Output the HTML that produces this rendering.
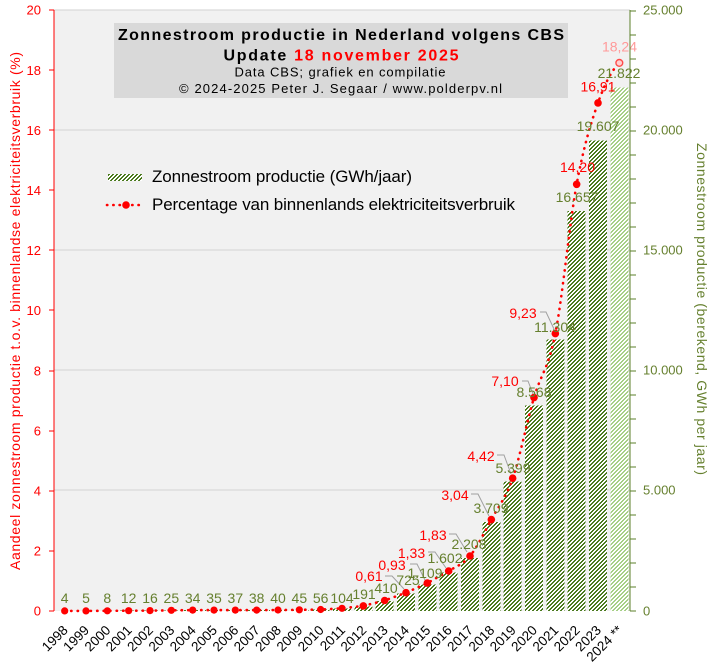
<!DOCTYPE html>
<html><head><meta charset="utf-8"><style>
html,body{margin:0;padding:0;background:#fff;}
svg{display:block;}
text{font-family:"Liberation Sans",Arial,sans-serif;}
.g{fill:#66802f;font-size:14px;text-anchor:middle;}
.r{fill:#ff0000;font-size:14px;text-anchor:middle;}
.yl{fill:#ff0000;font-size:13px;text-anchor:end;}
.yr{fill:#66802f;font-size:13px;font-family:"DejaVu Sans",sans-serif;}
.xl{fill:#000;font-size:13.5px;text-anchor:end;}
</style></head><body>
<svg width="711" height="666" viewBox="0 0 711 666" xmlns="http://www.w3.org/2000/svg">
<defs>
<pattern id="hd" x="0" y="0" width="4" height="4" patternUnits="userSpaceOnUse">
<rect width="4" height="4" fill="#fff"/>
<g fill="#4b7a1e" shape-rendering="crispEdges">
<rect x="2" y="0" width="2" height="1"/><rect x="1" y="1" width="2" height="1"/><rect x="0" y="2" width="2" height="1"/><rect x="3" y="3" width="1" height="1"/><rect x="0" y="3" width="1" height="1"/>
</g></pattern>
<pattern id="hl" x="0" y="0" width="4" height="4" patternUnits="userSpaceOnUse">
<rect width="4" height="4" fill="#fff"/>
<g fill="#a6cf86" shape-rendering="crispEdges">
<rect x="2" y="0" width="2" height="1"/><rect x="1" y="1" width="2" height="1"/><rect x="0" y="2" width="2" height="1"/><rect x="3" y="3" width="1" height="1"/><rect x="0" y="3" width="1" height="1"/>
</g></pattern>
</defs>

<!-- plot background -->
<rect x="54" y="10" width="576" height="601" fill="#f1f1f1"/>
<g stroke="#d2d2d2" stroke-width="1" shape-rendering="crispEdges">
<line x1="54" y1="10" x2="630" y2="10"/>
<line x1="54" y1="130" x2="630" y2="130"/>
<line x1="54" y1="250" x2="630" y2="250"/>
<line x1="54" y1="370" x2="630" y2="370"/>
<line x1="54" y1="490" x2="630" y2="490"/>
</g>

<!-- title box -->
<rect x="114" y="23" width="454" height="75" fill="#d9d9d9"/>
<text x="341" y="40" text-anchor="middle" font-weight="bold" font-size="16" textLength="446" lengthAdjust="spacing" fill="#000">Zonnestroom productie in Nederland volgens CBS</text>
<text x="341" y="60.5" text-anchor="middle" font-weight="bold" font-size="16" textLength="235" lengthAdjust="spacing" fill="#000">Update <tspan fill="#ff0000">18 november 2025</tspan></text>
<text x="340" y="76.5" text-anchor="middle" font-size="13" textLength="211" lengthAdjust="spacing" fill="#000">Data CBS; grafiek en compilatie</text>
<text x="340.5" y="93" text-anchor="middle" font-size="13" textLength="323" lengthAdjust="spacing" fill="#000">© 2024-2025 Peter J. Segaar / www.polderpv.nl</text>

<!-- legend -->
<rect x="108" y="174" width="34" height="7" fill="url(#hd)"/>
<text x="152" y="182" font-size="17" textLength="260" lengthAdjust="spacing" fill="#000">Zonnestroom productie (GWh/jaar)</text>
<line x1="107" y1="205" x2="141" y2="205" stroke="#ff0000" stroke-width="2.6" stroke-linecap="round" stroke-dasharray="0.3 6"/>
<circle cx="126" cy="205" r="3.8" fill="#ff0000"/>
<text x="152" y="210" font-size="17" textLength="363" lengthAdjust="spacing" fill="#000">Percentage van binnenlands elektriciteitsverbruik</text>

<!-- bars -->
<g shape-rendering="crispEdges">
<rect x="55.67" y="610.9" width="18" height="0.1" fill="url(#hd)"/>
<rect x="77" y="610.88" width="18" height="0.12" fill="url(#hd)"/>
<rect x="98.33" y="610.8" width="18" height="0.2" fill="url(#hd)"/>
<rect x="119.67" y="610.7" width="18" height="0.3" fill="url(#hd)"/>
<rect x="141" y="610.6" width="18" height="0.4" fill="url(#hd)"/>
<rect x="162.33" y="610.4" width="18" height="0.6" fill="url(#hd)"/>
<rect x="183.67" y="610.2" width="18" height="0.8" fill="url(#hd)"/>
<rect x="205" y="610.2" width="18" height="0.8" fill="url(#hd)"/>
<rect x="226.33" y="610.1" width="18" height="0.9" fill="url(#hd)"/>
<rect x="247.67" y="610.1" width="18" height="0.9" fill="url(#hd)"/>
<rect x="269" y="610" width="18" height="1" fill="url(#hd)"/>
<rect x="290.33" y="609.9" width="18" height="1.1" fill="url(#hd)"/>
<rect x="311.67" y="609.7" width="18" height="1.3" fill="url(#hd)"/>
<rect x="333" y="608.5" width="18" height="2.5" fill="url(#hd)"/>
<rect x="354.33" y="606.4" width="18" height="4.6" fill="url(#hd)"/>
<rect x="375.67" y="601.2" width="18" height="9.8" fill="url(#hd)"/>
<rect x="397" y="593.6" width="18" height="17.4" fill="url(#hd)"/>
<rect x="418.33" y="584.4" width="18" height="26.6" fill="url(#hd)"/>
<rect x="439.67" y="572.5" width="18" height="38.5" fill="url(#hd)"/>
<rect x="461" y="558" width="18" height="53" fill="url(#hd)"/>
<rect x="482.33" y="522" width="18" height="89" fill="url(#hd)"/>
<rect x="503.67" y="481.4" width="18" height="129.6" fill="url(#hd)"/>
<rect x="525" y="405.4" width="18" height="205.6" fill="url(#hd)"/>
<rect x="546.33" y="339.7" width="18" height="271.3" fill="url(#hd)"/>
<rect x="567.67" y="211.2" width="18" height="399.8" fill="url(#hd)"/>
<rect x="589" y="140.4" width="18" height="470.6" fill="url(#hd)"/>
<rect x="610.33" y="87.3" width="18" height="523.7" fill="url(#hl)"/>
</g>

<!-- leader lines -->
<g stroke="#a0a0a0" stroke-width="1" fill="none">
<path d="M385,576 H392 L404,589"/>
<path d="M410,564 H417 L425,580"/>
<path d="M428,552 H435 L446,568"/>
<path d="M449,534 H456 L467,552"/>
<path d="M471,494 H478 L489,516"/>
<path d="M497,455 H504 L511,474"/>
<path d="M522,381 H528 L533,394"/>
<path d="M540,312 H546 L554,329"/>
</g>

<!-- percentage line -->
<path d="M64.67,610.9 L86,610.9 L107.33,610.8 L128.67,610.7 L150,610.6 L171.33,610.3 L192.67,610.1 L214,610.1 L235.33,610.1 L256.67,610.1 L278,610 L299.33,609.8 L320.67,609.5 L342,608.3 L363.33,605.9 L384.67,600.5 L406,592.7 L427.33,583.1 L448.67,571 C455.78,566.5 462.89,564.6 470,556 C477.11,547.4 484.22,532.6 491.33,519.6 C498.44,506.6 505.56,498.5 512.67,478.2 C519.78,457.9 526.89,421.7 534,397.6 C541.11,373.5 548.22,369.2 555.33,333.6 C562.44,298.05 569.56,222.75 576.67,184.3 C583.78,145.85 590.89,123.1 598,102.9 C605.11,82.7 612.22,69.6 619.33,62.9" fill="none" stroke="#ff0000" stroke-width="2.6" stroke-linecap="round" stroke-dasharray="0.3 6.2"/>
<g fill="#ff0000">
<circle cx="64.67" cy="610.9" r="3.6"/><circle cx="86" cy="610.9" r="3.6"/><circle cx="107.33" cy="610.8" r="3.6"/><circle cx="128.67" cy="610.7" r="3.6"/><circle cx="150" cy="610.6" r="3.6"/><circle cx="171.33" cy="610.3" r="3.6"/><circle cx="192.67" cy="610.1" r="3.6"/><circle cx="214" cy="610.1" r="3.6"/><circle cx="235.33" cy="610.1" r="3.6"/><circle cx="256.67" cy="610.1" r="3.6"/><circle cx="278" cy="610" r="3.6"/><circle cx="299.33" cy="609.8" r="3.6"/><circle cx="320.67" cy="609.5" r="3.6"/><circle cx="342" cy="608.3" r="3.6"/><circle cx="363.33" cy="605.9" r="3.8"/><circle cx="384.67" cy="600.5" r="3.8"/><circle cx="406" cy="592.7" r="3.8"/><circle cx="427.33" cy="583.1" r="3.8"/><circle cx="448.67" cy="571" r="3.8"/><circle cx="470" cy="556" r="3.8"/><circle cx="491.33" cy="519.6" r="3.8"/><circle cx="512.67" cy="478.2" r="3.8"/><circle cx="534" cy="397.6" r="3.8"/><circle cx="555.33" cy="333.6" r="3.8"/><circle cx="576.67" cy="184.3" r="3.8"/><circle cx="598" cy="102.9" r="3.8"/>
</g>
<circle cx="619.33" cy="62.9" r="3.4" fill="#ffd0d0" stroke="#ff4a4a" stroke-width="1.4"/>

<!-- GWh labels -->
<g class="g">
<text x="64.67" y="603">4</text><text x="86" y="603">5</text><text x="107.33" y="603">8</text><text x="128.67" y="603">12</text><text x="150" y="603">16</text><text x="171.33" y="603">25</text><text x="192.67" y="603">34</text><text x="214" y="603">35</text><text x="235.33" y="603">37</text><text x="256.67" y="603">38</text><text x="278" y="603">40</text><text x="299.33" y="603">45</text><text x="320.67" y="603">56</text><text x="342" y="603">104</text>
<text x="364" y="599">191</text><text x="386" y="593">410</text><text x="408" y="585">725</text><text x="425" y="578">1.109</text><text x="445" y="563">1.602</text><text x="469" y="549">2.208</text><text x="491" y="513">3.709</text><text x="513" y="473">5.399</text><text x="534" y="397">8.568</text><text x="555" y="332">11.304</text><text x="577" y="202">16.657</text><text x="598" y="131">19.607</text><text x="619" y="78">21.822</text>
</g>

<!-- percent labels -->
<g class="r">
<text x="369" y="581">0,61</text><text x="392" y="570">0,93</text><text x="411.5" y="558">1,33</text><text x="433" y="540">1,83</text><text x="455" y="500">3,04</text><text x="481" y="461">4,42</text><text x="505" y="386">7,10</text><text x="523" y="318">9,23</text><text x="577.5" y="172">14,20</text><text x="598" y="91.5">16,91</text>
<text x="619.5" y="51.5" fill="#ff9999">18,24</text>
</g>

<!-- left axis -->
<g stroke="#ff0000" stroke-width="1.2" shape-rendering="crispEdges">
<line x1="54" y1="10" x2="54" y2="611"/>
<line x1="49" y1="611" x2="54" y2="611"/><line x1="49" y1="551" x2="54" y2="551"/><line x1="49" y1="491" x2="54" y2="491"/><line x1="49" y1="431" x2="54" y2="431"/><line x1="49" y1="371" x2="54" y2="371"/><line x1="49" y1="310" x2="54" y2="310"/><line x1="49" y1="250" x2="54" y2="250"/><line x1="49" y1="190" x2="54" y2="190"/><line x1="49" y1="130" x2="54" y2="130"/><line x1="49" y1="70" x2="54" y2="70"/><line x1="49" y1="10" x2="54" y2="10"/>
</g>
<g class="yl">
<text x="41" y="615.7">0</text><text x="41" y="555.6">2</text><text x="41" y="495.5">4</text><text x="41" y="435.4">6</text><text x="41" y="375.3">8</text><text x="41" y="315.2">10</text><text x="41" y="255.1">12</text><text x="41" y="195">14</text><text x="41" y="134.9">16</text><text x="41" y="74.8">18</text><text x="41" y="14.7">20</text>
</g>
<text transform="translate(20,311) rotate(-90)" text-anchor="middle" font-size="14" textLength="518" lengthAdjust="spacing" fill="#ff0000">Aandeel zonnestroom productie t.o.v. binnenlandse elektriciteitsverbruik (%)</text>

<!-- right axis -->
<g stroke="#5b7f2a" stroke-width="1.2" shape-rendering="crispEdges">
<line x1="630" y1="10" x2="630" y2="611"/>
<line x1="630" y1="611" x2="636" y2="611"/><line x1="630" y1="587" x2="636" y2="587"/><line x1="630" y1="563" x2="636" y2="563"/><line x1="630" y1="539" x2="636" y2="539"/><line x1="630" y1="515" x2="636" y2="515"/><line x1="630" y1="491" x2="636" y2="491"/><line x1="630" y1="467" x2="636" y2="467"/><line x1="630" y1="443" x2="636" y2="443"/><line x1="630" y1="419" x2="636" y2="419"/><line x1="630" y1="395" x2="636" y2="395"/><line x1="630" y1="371" x2="636" y2="371"/><line x1="630" y1="347" x2="636" y2="347"/><line x1="630" y1="323" x2="636" y2="323"/><line x1="630" y1="299" x2="636" y2="299"/><line x1="630" y1="275" x2="636" y2="275"/><line x1="630" y1="251" x2="636" y2="251"/><line x1="630" y1="227" x2="636" y2="227"/><line x1="630" y1="203" x2="636" y2="203"/><line x1="630" y1="179" x2="636" y2="179"/><line x1="630" y1="155" x2="636" y2="155"/><line x1="630" y1="131" x2="636" y2="131"/><line x1="630" y1="107" x2="636" y2="107"/><line x1="630" y1="83" x2="636" y2="83"/><line x1="630" y1="59" x2="636" y2="59"/><line x1="630" y1="35" x2="636" y2="35"/><line x1="630" y1="11" x2="636" y2="11"/>
</g>
<g class="yr">
<text x="643" y="615.7">0</text><text x="643" y="494.7">5.000</text><text x="643" y="374.7">10.000</text><text x="643" y="254.7">15.000</text><text x="643" y="134.7">20.000</text><text x="643" y="14.7">25.000</text>
</g>
<text transform="translate(697,309) rotate(90)" text-anchor="middle" font-size="14" textLength="332" lengthAdjust="spacing" fill="#66802f">Zonnestroom productie (berekend, GWh per jaar)</text>

<!-- x labels -->
<g class="xl">
<text transform="translate(68.67,631) rotate(-45)">1998</text>
<text transform="translate(90,631) rotate(-45)">1999</text>
<text transform="translate(111.33,631) rotate(-45)">2000</text>
<text transform="translate(132.67,631) rotate(-45)">2001</text>
<text transform="translate(154,631) rotate(-45)">2002</text>
<text transform="translate(175.33,631) rotate(-45)">2003</text>
<text transform="translate(196.67,631) rotate(-45)">2004</text>
<text transform="translate(218,631) rotate(-45)">2005</text>
<text transform="translate(239.33,631) rotate(-45)">2006</text>
<text transform="translate(260.67,631) rotate(-45)">2007</text>
<text transform="translate(282,631) rotate(-45)">2008</text>
<text transform="translate(303.33,631) rotate(-45)">2009</text>
<text transform="translate(324.67,631) rotate(-45)">2010</text>
<text transform="translate(346,631) rotate(-45)">2011</text>
<text transform="translate(367.33,631) rotate(-45)">2012</text>
<text transform="translate(388.67,631) rotate(-45)">2013</text>
<text transform="translate(410,631) rotate(-45)">2014</text>
<text transform="translate(431.33,631) rotate(-45)">2015</text>
<text transform="translate(452.67,631) rotate(-45)">2016</text>
<text transform="translate(474,631) rotate(-45)">2017</text>
<text transform="translate(495.33,631) rotate(-45)">2018</text>
<text transform="translate(516.67,631) rotate(-45)">2019</text>
<text transform="translate(538,631) rotate(-45)">2020</text>
<text transform="translate(559.33,631) rotate(-45)">2021</text>
<text transform="translate(580.67,631) rotate(-45)">2022</text>
<text transform="translate(602,631) rotate(-45)">2023</text>
<text transform="translate(623.33,631) rotate(-45)">2024 **</text>
</g>
</svg>
</body></html>
